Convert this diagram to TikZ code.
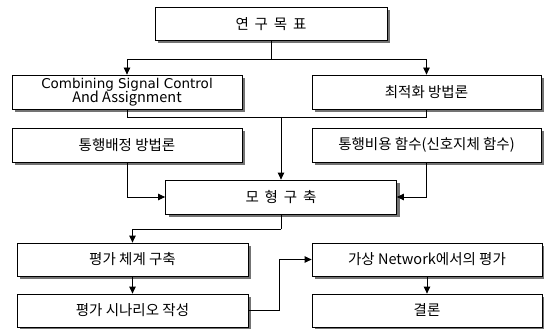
\documentclass[tikz,border=0pt]{standalone}
\usepackage{fontspec}
\setmainfont{Noto Sans CJK KR}
\newfontfamily\latinfont{DejaVu Sans}
\usetikzlibrary{arrows.meta,shadows}
\newcommand{\wsp}{\hspace{0.4em}}
\tikzset{
  flowbox/.style={draw=black, fill=white, line width=0.8pt, rectangle,
    inner sep=0pt, align=center, font=\fontsize{14.5}{14.5}\selectfont,
    drop shadow={shadow xshift=3pt, shadow yshift=-3pt, fill=black!55, opacity=1}},
  link/.style={draw=black, line width=0.8pt},
  arr/.style={link, -{Triangle[length=7pt,width=6.5pt]}}
}
\begin{document}
\begin{tikzpicture}[x=1pt, y=-1pt]
  \useasboundingbox (0,0) rectangle (544,329);

  % boxes
  \node[flowbox, minimum width=232pt, minimum height=33pt] (goal) at (271,24) {연\wsp 구\wsp 목\wsp 표};
  \node[flowbox, minimum width=230pt, minimum height=34pt] (combine) at (127,92)
    {\latinfont\fontsize{13.5}{14}\selectfont Combining Signal Control\\ And Assignment};
  \node[flowbox, minimum width=229pt, minimum height=34pt] (optim) at (426.5,92) {최적화 방법론};
  \node[flowbox, minimum width=230pt, minimum height=34pt] (assign) at (127,145) {통행배정 방법론};
  \node[flowbox, minimum width=229pt, minimum height=34pt] (cost) at (426.5,145) {통행비용 함수(신호지체 함수)};
  \node[flowbox, minimum width=231pt, minimum height=34pt] (model) at (281,197) {모\wsp 형\wsp 구\wsp 축};
  \node[flowbox, minimum width=231pt, minimum height=33pt] (evalsys) at (132.5,259.5) {평가 체계 구축};
  \node[flowbox, minimum width=231pt, minimum height=33pt] (scen) at (132.5,310.5) {평가 시나리오 작성};
  \node[flowbox, minimum width=230pt, minimum height=33pt] (virt) at (427,259.5) {가상 Network에서의 평가};
  \node[flowbox, minimum width=230pt, minimum height=33pt] (concl) at (427,310.5) {결론};

  % junction points
  \coordinate (split) at (271,59);
  \coordinate (merge) at (281,117);
  \coordinate (down) at (281,229);
  \coordinate (bend) at (279,310.5);

  % connectors
  \draw[link] (goal.south) -- (split);
  \draw[arr] (split) -| (combine.north);
  \draw[arr] (split) -| (optim.north);
  \draw[link] (combine.south) |- (merge);
  \draw[link] (optim.south) |- (merge);
  \draw[arr] (merge) -- (model.north);
  \draw[arr] (assign.south) |- (model.west);
  \draw[arr] (cost.south) |- (model.east);
  \draw[link] (model.south) -- (down);
  \draw[arr] (down) -| (evalsys.north);
  \draw[arr] (evalsys.south) -- (scen.north);
  \draw[link] (scen.east) -- (bend);
  \draw[arr] (bend) |- (virt.west);
  \draw[arr] (virt.south) -- (concl.north);
\end{tikzpicture}
\end{document}
